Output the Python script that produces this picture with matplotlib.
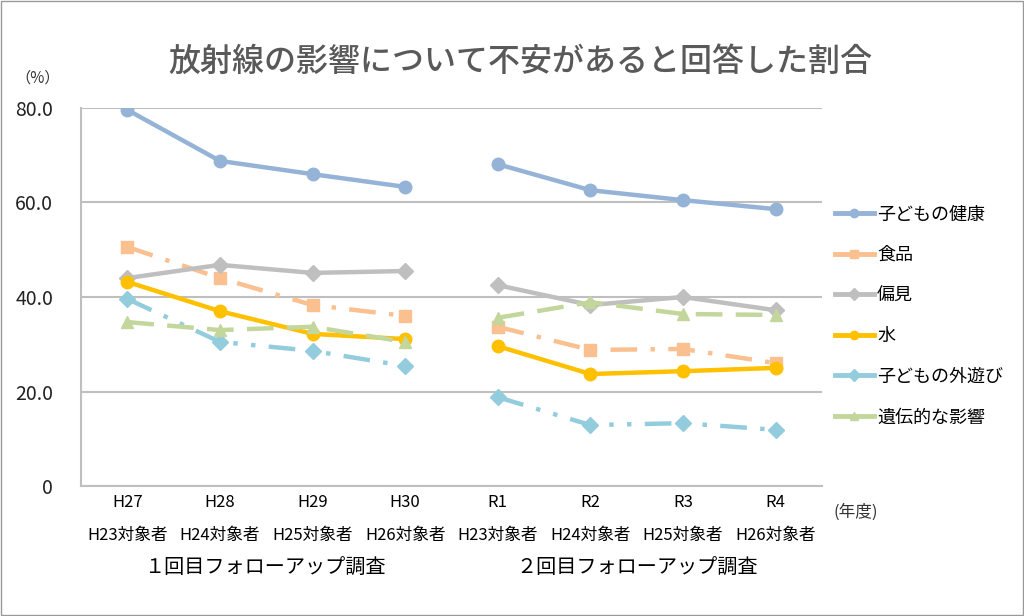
import numpy as np
import matplotlib.pyplot as plt
from matplotlib.patches import Rectangle
from matplotlib.lines import Line2D

plt.rcParams['font.family'] = ['Noto Sans CJK JP', 'DejaVu Sans']

years = ["H27", "H28", "H29", "H30", "R1", "R2", "R3", "R4"]
targets = ["H23対象者", "H24対象者", "H25対象者", "H26対象者",
           "H23対象者", "H24対象者", "H25対象者", "H26対象者"]
groups = ["１回目フォローアップ調査", "２回目フォローアップ調査"]

health = [79.6, 68.8, 66.0, 63.3, 68.1, 62.6, 60.5, 58.6]
food = [50.6, 44.0, 38.3, 36.0, 33.7, 28.8, 29.0, 26.0]
prejudice = [44.0, 46.8, 45.1, 45.5, 42.5, 38.3, 40.0, 37.2]
water = [43.2, 37.0, 32.2, 31.1, 29.6, 23.7, 24.3, 25.0]
outdoor = [39.6, 30.5, 28.6, 25.4, 18.8, 12.9, 13.3, 11.9]
genetic = [34.7, 33.0, 33.7, 30.5, 35.6, 38.9, 36.4, 36.2]

series = [
    ("子どもの健康", health, "#95B3D7", "o", "-", 9),
    ("食品", food, "#FAC090", "s", (0, (6, 3, 1, 3)), 9),
    ("偏見", prejudice, "#BFBFBF", "D", "-", 8),
    ("水", water, "#FFC000", "o", "-", 9),
    ("子どもの外遊び", outdoor, "#93CDDD", "D", (0, (6, 3, 1, 3, 1, 3)), 8),
    ("遺伝的な影響", genetic, "#C3D69B", "^", (0, (6, 3)), 9),
]

fig = plt.figure(figsize=(10.24, 6.16), dpi=100)
ax = fig.add_axes([0.0791, 0.211, 0.7236, 0.6137])

x = np.arange(len(years))
handles = []
for name, vals, col, mk, ls, ms in series:
    v = np.array(vals, dtype=float)
    for sl in (slice(0, 4), slice(4, 8)):
        ax.plot(x[sl], v[sl], color=col, lw=3.2, ls=ls, marker=mk, ms=ms)
    handles.append(Line2D([], [], color=col, lw=3.5, marker=mk, ms=6, label=name))

ax.set_xlim(-0.5, 7.5)
ax.set_ylim(0, 80)
ax.set_yticks([0, 20, 40, 60, 80])
ax.set_yticklabels(["0", "20.0", "40.0", "60.0", "80.0"], fontsize=14, color="#222222")
ax.yaxis.grid(True, color="#BFBFBF", lw=1.5)
ax.set_axisbelow(True)
ax.tick_params(axis='y', length=0, pad=20)
ax.set_xticks(x)
ax.set_xticklabels([f"{a}\n{b}" for a, b in zip(years, targets)], fontsize=12, linespacing=2.2)
ax.tick_params(axis='x', length=0, pad=6)
for s in ["top", "right"]:
    ax.spines[s].set_visible(False)
for s in ["left", "bottom"]:
    ax.spines[s].set_color("#BFBFBF")
    ax.spines[s].set_linewidth(1.5)

fig.text(0.508, 0.9, "放射線の影響について不安があると回答した割合", ha="center", va="center",
         fontsize=23, color="#595959", fontweight="medium")
fig.text(0.037, 0.873, "（%）", ha="center", va="center", fontsize=11, color="#333333")
fig.text(0.836, 0.168, "(年度)", ha="center", va="center", fontsize=12, color="#333333")
fig.text(0.259, 0.078, groups[0], ha="center", va="center", fontsize=14.5)
fig.text(0.622, 0.078, groups[1], ha="center", va="center", fontsize=14.5)

ax.legend(handles=handles, loc="center left", bbox_to_anchor=(1.0, 0.45), frameon=False,
          fontsize=13, handlelength=2.2, handletextpad=0.15, labelspacing=1.25,
          borderaxespad=0.3)

fig.patches.append(Rectangle((0.001, 0.001), 0.998, 0.998, transform=fig.transFigure,
                             fill=False, edgecolor="#999999", lw=1))
fig.savefig("out.png", dpi=100)
